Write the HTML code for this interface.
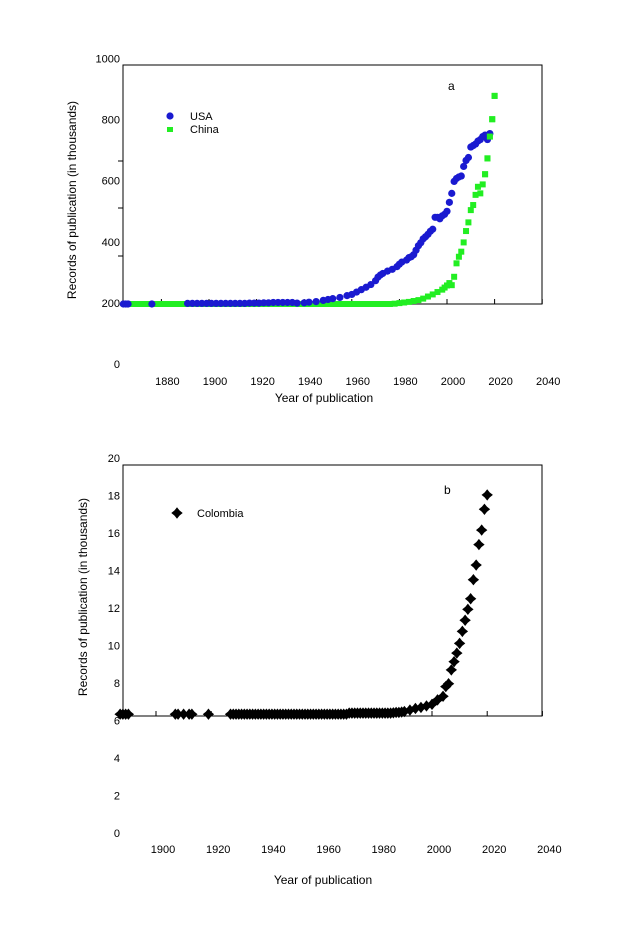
<!DOCTYPE html>
<html><head><meta charset="utf-8"><style>
body{margin:0;background:#fff;}
svg{display:block;font-family:"Liberation Sans",Arial,sans-serif;}
</style></head><body>
<svg id="c" width="620" height="929" viewBox="0 0 620 929" xmlns="http://www.w3.org/2000/svg"></svg>
<script>
// ---- Panel a data ----
const usaYears=[1864,1865,1866,1876,1891,1893,1895,1897,1899,1901,1903,1905,1907,1909,1911,1913,1915,1917,1919,1921,1923,1925,1927,1929,1931,1933,1935,1937,1940,1942,1945,1948,1950,1952,1955,1958,1960,1962,1964,1966,1968,1970,1971,1972,1973,1975,1977,1979,1980,1981,1983,1984,1985,1986,1987,1988,1989,1990,1991,1992,1993,1994,1995,1996,1997,1998,1999,2000,2001,2002,2003,2004,2005,2006,2007,2008,2009,2010,2011,2012,2013,2014,2015,2016,2017,2018];
const usaValues=[200,200,200,200,202,202,202,202,202,202,202,202,202,202,202,202,202,203,203,203,204,204,205,205,205,205,205,203,204,206,208,212,215,218,222,228,232,240,248,256,265,278,290,297,302,310,316,325,333,340,347,355,358,365,380,395,405,418,425,433,443,450,490,490,485,495,500,510,540,570,610,620,625,628,660,680,690,725,730,735,745,750,760,765,750,770];
const chinaYears=[];const chinaValues=[];
const chinaLate=[[1976,200],[1978,201],[1980,203],[1982,205],[1984,207],[1986,210],[1988,213],[1990,218],[1992,225],[1994,232],[1996,240],[1998,248],[1999,255],[2000,262],[2001,270],[2002,263],[2003,291],[2004,336],[2005,358],[2006,375],[2007,406],[2008,444],[2009,473],[2010,514],[2011,531],[2012,565],[2013,592],[2014,570],[2015,600],[2016,634],[2017,687],[2018,760],[2019,818],[2020,896]];
for(let y=1866;y<1976;y+=2){chinaYears.push(y);chinaValues.push(200);}
chinaLate.forEach(p=>{chinaYears.push(p[0]);chinaValues.push(p[1]);});
const aXTicks=[1880,1900,1920,1940,1960,1980,2000,2020,2040];
const aYTicks=[0,200,400,600,800,1000];
// ---- Panel b data ----
const colYears=[1887,1888,1889,1890,1907,1908,1910,1912,1913,1919];
const colValues=[6.1,6.1,6.1,6.1,6.1,6.1,6.1,6.1,6.1,6.1];
for(let y=1927;y<=1985;y++){colYears.push(y);colValues.push(y<1970?6.1:6.16);}
const colLateYears=[1986,1987,1988,1989,1990,1992,1994,1996,1998,2000,2002,2004,2005,2006,2007,2008,2009,2010,2011,2012,2013,2014,2015,2016,2017,2018,2019,2020];
const colLateValues=[6.18,6.2,6.2,6.22,6.25,6.33,6.42,6.48,6.56,6.65,6.9,7.1,7.64,7.8,8.57,9.03,9.51,10.05,10.72,11.34,11.95,12.54,13.6,14.42,15.56,16.37,17.53,18.33];
colLateYears.forEach((y,i)=>{colYears.push(y);colValues.push(colLateValues[i]);});
const bXTicks=[1900,1920,1940,1960,1980,2000,2020,2040];
const bYTicks=[0,2,4,6,8,10,12,14,16,18,20];

const NS="http://www.w3.org/2000/svg";
const svg=document.getElementById('c');
function el(tag,attrs,parent){const e=document.createElementNS(NS,tag);for(const k in attrs)e.setAttribute(k,attrs[k]);(parent||svg).appendChild(e);return e;}
function txt(s,x,y,attrs,parent){const t=el('text',Object.assign({x:x,y:y,'font-size':11,fill:'#000'},attrs),parent);t.textContent=s;return t;}

// ---- Panel a ----
const ga=el('g',{});


const ax=y=>447+(y-2000)*2.38;
const ay=v=>304-(v-200)*0.299;
const ayLab=v=>364-v*0.3055;
const fa=el('rect',{x:123,y:65,width:419,height:239,fill:'none',stroke:'#000','stroke-width':1},ga);


aXTicks.forEach(t=>{
  const l=el('line',{x1:ax(t),x2:ax(t),y1:304,y2:299,stroke:'#000'},ga);
  
  
  const tt=txt(t,ax(t)+6,385,{'text-anchor':'middle'},ga);
  
  
});
[161,208,256].forEach(y=>{el('line',{x1:118,x2:123,y1:y,y2:y,stroke:'#000'},ga);});
aYTicks.forEach(t=>{
  const tt=txt(t,120,ayLab(t)+4,{'text-anchor':'end'},ga);
  
  
});
chinaYears.forEach((y,i)=>{
  const r=el('rect',{x:ax(y)-3,y:ay(chinaValues[i])-3,width:6,height:6,fill:'#22ee22'},ga);
  
  
});
usaYears.forEach((y,i)=>{
  const c=el('circle',{cx:ax(y),cy:ay(usaValues[i]),r:3.6,fill:'#1a1ad0'},ga);
  
  
});
chinaYears.forEach((y,i)=>{ if(y>=2016){
  const r=el('rect',{x:ax(y)-3,y:ay(chinaValues[i])-3,width:6,height:6,fill:'#22ee22'},ga);
  
  
}});
const la=el('g',{},ga);


el('circle',{cx:170,cy:116,r:3.6,fill:'#1a1ad0'},la);
txt('USA',190,120,{},la);
el('rect',{x:167,y:127,width:6,height:5,fill:'#22ee22'},la);
txt('China',190,133,{},la);
const lbA=txt('a',448,90,{'font-size':12},ga);


const xta=txt('Year of publication',324,402,{'text-anchor':'middle','font-size':12},ga);


const yta=txt('Records of publication (in thousands)',0,0,{'text-anchor':'middle','font-size':12,transform:'translate(76,200) rotate(-90)'},ga);



// ---- Panel b ----
const gb=el('g',{});


const bx=y=>432+(y-2000)*2.76;
const by=v=>716-(v-6)*17.93;
const byLab=v=>833-v*18.75;
const fb=el('rect',{x:123,y:465,width:419,height:251,fill:'none',stroke:'#000','stroke-width':1},gb);


bXTicks.forEach(t=>{
  const l=el('line',{x1:bx(t),x2:bx(t),y1:716,y2:711,stroke:'#000'},gb);
  
  
  const tt=txt(t,bx(t)+7,853,{'text-anchor':'middle'},gb);
  
  
});
bYTicks.forEach(t=>{
  const tt=txt(t,120,byLab(t)+4,{'text-anchor':'end'},gb);
  
  
});
function cross(cx,cy,parent){
  return el('path',{d:`M${cx-4.5},${cy} L${cx-2},${cy-2} L${cx},${cy-4.5} L${cx+2},${cy-2} L${cx+4.5},${cy} L${cx+2},${cy+2} L${cx},${cy+4.5} L${cx-2},${cy+2} Z`,fill:'#000',stroke:'#000','stroke-width':1.5},parent);
}
colYears.forEach((y,i)=>{
  const p=cross(bx(y),by(colValues[i]),gb);
  
  
});
const lb=el('g',{},gb);


cross(177,513,lb);
txt('Colombia',197,517,{},lb);
const lbB=txt('b',444,494,{'font-size':12},gb);


const xtb=txt('Year of publication',323,884,{'text-anchor':'middle','font-size':12},gb);


const ytb=txt('Records of publication (in thousands)',0,0,{'text-anchor':'middle','font-size':12,transform:'translate(87,597) rotate(-90)'},gb);


</script>
</body></html>
